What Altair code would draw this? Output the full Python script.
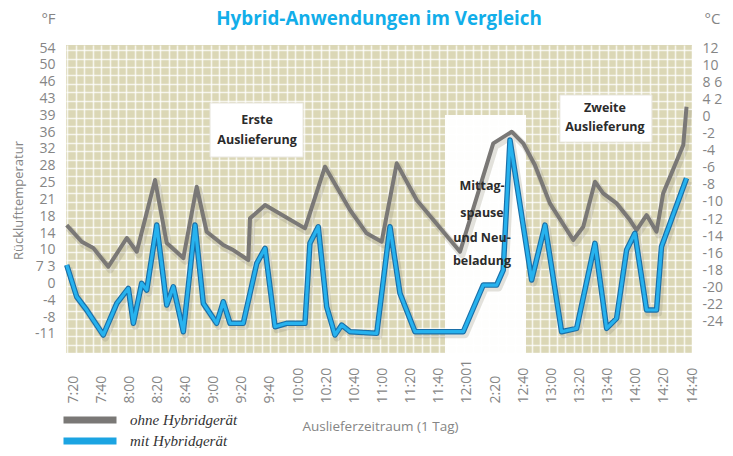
import json
import altair as alt
import pandas as pd

# ---------------- data ----------------
x_labels = ["7:20", "7:40", "8:00", "8:20", "8:40", "9:00", "9:20", "9:40", "10:00",
            "10:20", "10:40", "11:00", "11:20", "11:40", "12:001", "2:20", "12:40",
            "13:00", "13:20", "13:40", "14:00", "14:20", "14:40"]
left_labels = ["54", "50", "46", "43", "39", "36", "32", "28", "25", "21", "18", "14",
               "10", "7 3", "0", "-4", "-8", "-11"]
right_labels = ["12", "10", "8 6", "4 2", "0", "-2", "-4", "-6", "-8", "-10", "-12",
                "-14", "-16", "-18", "-20", "-22", "-24"]

series_names = ["ohne Hybridgerät", "mit Hybridgerät"]

# minutes after 7:20, temperature in axis units
gray_t = [-4.5, 6.2, 14.4, 25.1, 38.2, 45.3, 58.3, 66.6, 78.4, 87.9, 95.0, 106.8, 113.9,
          124.6, 125.8, 136.5, 164.9, 179.1, 196.9, 208.7, 219.4, 230.1, 244.3, 275.1,
          298.7, 311.8, 320.0, 328.3, 339.0, 355.6, 362.7, 371.0, 376.9, 386.4, 395.9,
          400.6, 407.7, 414.8, 419.5, 433.8, 436.1]
gray_v = [-9.05, -11.03, -11.78, -14.0, -10.59, -12.22, -3.69, -11.19, -12.97, -4.49,
          -9.84, -11.42, -12.02, -13.21, -8.25, -6.67, -9.44, -2.11, -7.26, -10.03,
          -11.03, -1.71, -6.07, -12.22, 0.67, 2.05, 0.67, -1.91, -6.47, -10.83, -9.25,
          -3.90, -5.28, -6.47, -8.45, -9.64, -7.86, -9.84, -5.28, 0.47, 5.02]

blue_t = [-4.5, 2.6, 9.7, 21.5, 31.1, 39.3, 42.9, 48.8, 52.4, 59.5, 66.6, 71.3, 78.4,
          86.7, 92.6, 102.1, 106.8, 111.6, 121.0, 130.6, 136.5, 143.6, 151.9, 164.9,
          168.4, 174.3, 180.3, 186.2, 191.0, 196.9, 215.9, 225.3, 232.4, 243.1, 277.4,
          291.6, 301.1, 305.8, 310.6, 326.0, 335.5, 347.3, 358.0, 371.0, 379.3, 386.4,
          393.5, 399.4, 407.7, 414.8, 418.3, 436.1]
blue_v = [-13.80, -17.57, -19.15, -22.12, -18.36, -16.57, -20.73, -15.98, -16.77, -9.05,
          -18.56, -16.38, -21.73, -9.05, -18.36, -20.73, -18.16, -20.73, -20.73, -13.60,
          -11.82, -21.14, -20.73, -20.73, -11.22, -9.25, -18.76, -22.12, -20.94, -21.73,
          -21.92, -9.25, -17.17, -21.73, -21.73, -16.18, -16.18, -14.40, 1.06, -15.58,
          -9.05, -21.73, -21.33, -11.22, -21.33, -20.14, -12.02, -10.03, -19.15, -19.15,
          -11.63, -3.49]

# lunch-break band and annotation boxes (data units)
band_t = [264.4, 322.0]
band_v_top = 4.03
box_names = ["Erste", "Zweite"]
box_t1 = [97.4, 346.1]
box_t2 = [163.5, 411.5]
box_v1 = [5.46, 6.41]
box_v2 = [-0.96, 0.82]

box_text = ["Erste", "Auslieferung", "Zweite", "Auslieferung"]
box_text_t = [130.8, 130.8, 378.1, 378.1]
box_text_v = [3.44, 1.06, 4.87, 2.61]

pause_text = ["Mittag-", "spause", "und Neu-", "beladung"]
pause_t = [290.7, 290.7, 290.7, 290.7]
pause_v = [-4.41, -7.62, -10.6, -13.33]

# ---------------- build tables ----------------
X_DOM = [-5, 440]
Y_DOM = [-24.26, 12.36]
xs = alt.Scale(domain=X_DOM, nice=False, zero=False)
ys = alt.Scale(domain=Y_DOM, nice=False, zero=False)

gray_df = pd.DataFrame({"t": gray_t, "v": gray_v, "Serie": series_names[0]})
blue_df = pd.DataFrame({"t": blue_t, "v": blue_v, "Serie": series_names[1]})
band_df = pd.DataFrame({"t1": [band_t[0]], "t2": [band_t[1]],
                        "v1": [band_v_top], "v2": [Y_DOM[0]]})
box_df = pd.DataFrame({"name": box_names, "t1": box_t1, "t2": box_t2,
                       "v1": box_v1, "v2": box_v2})
txt_df = pd.DataFrame({"label": box_text + pause_text,
                       "t": box_text_t + pause_t, "v": box_text_v + pause_v})

GRAY = "#716e68"
DARKBLUE = "#1a6fa8"
LABEL = "#858585"
FONT = "Open Sans"

color_scale = alt.Scale(domain=series_names, range=["#7a7876", "#1ba4e2"])

# grid-only axes (plaid background)
grid_x_axis = alt.Axis(orient="top", values=list(range(-4, 441, 6)), grid=True,
                       gridColor="white", gridWidth=1.6, gridOpacity=0.75,
                       labels=False, ticks=False, domain=False, title=None)
grid_y_axis = alt.Axis(orient="left", values=[Y_DOM[0] + 1.0 * k for k in range(37)],
                       grid=True, gridColor="white", gridWidth=1.6, gridOpacity=0.75,
                       labels=False, ticks=False, domain=False,
                       title="Rücklufttemperatur", titleX=-48, titleY=155,
                       titleColor=LABEL, titleFontSize=13, titleFont=FONT,
                       titleFontWeight="normal", titleAngle=270,
                       titleAlign="center", titleBaseline="middle")

x_axis = alt.Axis(orient="bottom", values=[20 * k for k in range(len(x_labels))],
                  labelExpr=f"{json.dumps(x_labels)}[round(datum.value / 20)]",
                  labelAngle=270, labelAlign="left", labelBaseline="middle",
                  labelPadding=50, ticks=False, domain=False, grid=False,
                  labelColor=LABEL, labelFontSize=14, labelFont=FONT,
                  labelOverlap=False, labelFlush=False, labelBound=False,
                  title="Auslieferzeitraum (1 Tag)", titleX=314, titleY=73,
                  titleColor=LABEL, titleFontSize=13.5, titleFont=FONT,
                  titleFontWeight="normal", titleAlign="center",
                  titleBaseline="middle")

left_axis = alt.Axis(orient="left", values=[12 - 2 * k for k in range(len(left_labels))],
                     labelExpr=f"{json.dumps(left_labels)}[round((12 - datum.value) / 2)]",
                     labelPadding=11, ticks=False, domain=False, grid=False,
                     labelColor=LABEL, labelFontSize=14, labelFont=FONT,
                     labelOverlap=False, labelFlush=False, labelBound=False,
                     title="°F", titleX=-18, titleY=-27, titleAngle=0,
                     titleAlign="center", titleBaseline="middle",
                     titleColor=LABEL, titleFontSize=15, titleFont=FONT,
                     titleFontWeight="normal")

RSTEP = 2.033
right_axis = alt.Axis(orient="right",
                      values=[12 - RSTEP * k for k in range(len(right_labels))],
                      labelExpr=f"{json.dumps(right_labels)}[round((12 - datum.value) / {RSTEP})]",
                      labelPadding=10, ticks=False, domain=False, grid=False,
                      labelColor=LABEL, labelFontSize=14, labelFont=FONT,
                      labelOverlap=False, labelFlush=False, labelBound=False,
                      title="°C", titleX=20, titleY=-27, titleAngle=0,
                      titleAlign="center", titleBaseline="middle",
                      titleColor=LABEL, titleFontSize=15, titleFont=FONT,
                      titleFontWeight="normal")

band = alt.Chart(band_df).mark_rect(fill="white", opacity=0.97).encode(
    x=alt.X("t1:Q", scale=xs, axis=grid_x_axis), x2="t2:Q",
    y=alt.Y("v1:Q", scale=ys, axis=grid_y_axis), y2="v2:Q")

boxes = alt.Chart(box_df).mark_rect(fill="white", stroke="#e8e6df", strokeWidth=1).encode(
    x=alt.X("t1:Q", scale=xs, axis=None), x2="t2:Q",
    y=alt.Y("v1:Q", scale=ys, axis=None), y2="v2:Q")

shadow_gray = alt.Chart(gray_df).mark_line(strokeWidth=7, color="#8f8b78", opacity=0.25,
                                           strokeJoin="round", xOffset=2, yOffset=3).encode(
    x=alt.X("t:Q", scale=xs, axis=None),
    y=alt.Y("v:Q", scale=ys, axis=None))

shadow_blue = alt.Chart(blue_df).mark_line(strokeWidth=7, color="#8f8b78", opacity=0.25,
                                           strokeJoin="round", xOffset=2, yOffset=3).encode(
    x=alt.X("t:Q", scale=xs, axis=None),
    y=alt.Y("v:Q", scale=ys, axis=None))

gray_line = alt.Chart(gray_df).mark_line(strokeWidth=4, color=GRAY, strokeJoin="round").encode(
    x=alt.X("t:Q", scale=xs, axis=x_axis),
    y=alt.Y("v:Q", scale=ys, axis=left_axis),
    color=alt.Color("Serie:N", scale=color_scale, legend=alt.Legend(
        title=None, orient="none", legendX=-6, legendY=368, direction="vertical",
        symbolType="stroke", symbolSize=2809, symbolStrokeWidth=7,
        labelFont="Liberation Serif", labelFontStyle="italic", labelFontSize=15,
        labelColor="#333333", labelOffset=10, rowPadding=6, clipHeight=14,
        padding=0)))

blue_under = alt.Chart(blue_df).mark_line(strokeWidth=5.5, color=DARKBLUE, strokeJoin="round").encode(
    x=alt.X("t:Q", scale=xs, axis=None),
    y=alt.Y("v:Q", scale=ys, axis=None))

blue_line = alt.Chart(blue_df).mark_line(strokeWidth=3.2, strokeJoin="round").encode(
    x=alt.X("t:Q", scale=xs, axis=None),
    y=alt.Y("v:Q", scale=ys, axis=right_axis),
    color=alt.Color("Serie:N", scale=alt.Scale(domain=series_names,
                                               range=["#7a7876", "#27b2ee"]),
                    legend=None))

texts = alt.Chart(txt_df).mark_text(font=FONT, fontSize=12.5, fontWeight="bold",
                                    color="#2b2b2b", align="center", baseline="middle").encode(
    x=alt.X("t:Q", scale=xs, axis=None),
    y=alt.Y("v:Q", scale=ys, axis=None),
    text="label:N")

chart = alt.layer(band, boxes, shadow_gray, shadow_blue, gray_line, blue_under,
                  blue_line, texts).resolve_axis(
    x="independent", y="independent"
).resolve_scale(color="independent").properties(
    width=626, height=308,
    background="white",
    autosize=alt.AutoSizeParams(type="none"),
    padding={"left": 58, "top": 37, "right": 33, "bottom": 95},
    title=alt.Title("Hybrid-Anwendungen im Vergleich", font=FONT, fontSize=18.8,
                    fontWeight="bold", color="#12aee9", anchor="middle", offset=14,
                    dy=32),
).configure_view(fill="#dbd7b6", stroke=None)

chart.save("out.html", embed_options={"renderer": "svg", "actions": False})
